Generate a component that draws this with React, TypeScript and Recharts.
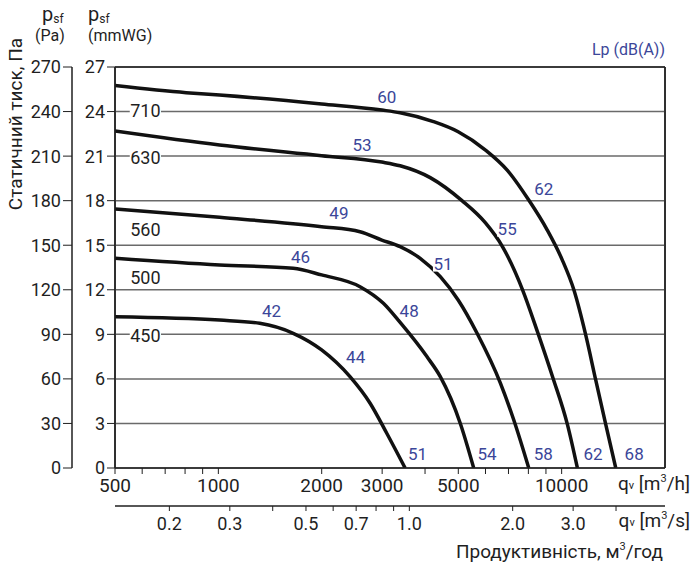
import React from "react";
import {
  ComposedChart,
  Line,
  XAxis,
  YAxis,
  CartesianGrid,
  ReferenceLine,
  ReferenceDot,
} from "recharts";

const W = 692;
const H = 562;
const INK = "#1f1f1f";
const BLUE = "#3b4699";
const FONT = "Roboto, 'Open Sans', sans-serif";

// fan characteristics, q in m³/h, p in Pa
const fan450 = [
  { q: 500, p: 101.9 },
  { q: 1008, p: 99.6 },
  { q: 1320, p: 97.4 },
  { q: 1652, p: 90.7 },
  { q: 1999, p: 79.5 },
  { q: 2418, p: 61.5 },
  { q: 2767, p: 43.6 },
  { q: 3094, p: 23.4 },
  { q: 3500, p: 0 },
];
const fan500 = [
  { q: 500, p: 141.2 },
  { q: 1008, p: 136.7 },
  { q: 1652, p: 134.5 },
  { q: 1999, p: 130 },
  { q: 2586, p: 122.1 },
  { q: 3025, p: 110.9 },
  { q: 3385, p: 98 },
  { q: 4050, p: 75 },
  { q: 4431, p: 61.5 },
  { q: 5068, p: 30 },
  { q: 5544, p: 0 },
];
const fan560 = [
  { q: 500, p: 174.4 },
  { q: 1008, p: 168.8 },
  { q: 1999, p: 162.5 },
  { q: 2586, p: 159.1 },
  { q: 2993, p: 153.5 },
  { q: 3385, p: 149 },
  { q: 3872, p: 141.2 },
  { q: 4431, p: 128.8 },
  { q: 4995, p: 113.1 },
  { q: 5671, p: 90.7 },
  { q: 6635, p: 57 },
  { q: 7254, p: 32.3 },
  { q: 8020, p: 0 },
];
const fan630 = [
  { q: 500, p: 226.9 },
  { q: 1008, p: 217.5 },
  { q: 1999, p: 210.3 },
  { q: 2993, p: 206 },
  { q: 3385, p: 203.5 },
  { q: 4141, p: 195.5 },
  { q: 5125, p: 180 },
  { q: 6000, p: 165 },
  { q: 6723, p: 149.1 },
  { q: 7678, p: 120.5 },
  { q: 8490, p: 92.2 },
  { q: 9413, p: 61.3 },
  { q: 10392, p: 29.4 },
  { q: 11114, p: 0 },
];
const fan710 = [
  { q: 500, p: 257.5 },
  { q: 806, p: 252.7 },
  { q: 1008, p: 251.1 },
  { q: 1999, p: 245.1 },
  { q: 2993, p: 241 },
  { q: 3385, p: 239.2 },
  { q: 4234, p: 233.2 },
  { q: 4995, p: 226.4 },
  { q: 6000, p: 214.1 },
  { q: 6939, p: 200.6 },
  { q: 8020, p: 180.4 },
  { q: 9080, p: 160.2 },
  { q: 10045, p: 140 },
  { q: 10858, p: 119.8 },
  { q: 11750, p: 89.6 },
  { q: 12566, p: 59.3 },
  { q: 13440, p: 29.4 },
  { q: 14373, p: 0 },
];
const fans = [fan450, fan500, fan560, fan630, fan710];

// impeller sizes written along the left edge
const sizeLabels = [
  { q: 613, p: 240.4, t: "710" },
  { q: 613, p: 209.4, t: "630" },
  { q: 613, p: 160.7, t: "560" },
  { q: 613, p: 128.4, t: "500" },
  { q: 613, p: 88.9, t: "450" },
];

// sound power level Lp, dB(A)
const noiseLabels = [
  { q: 3094, p: 250, t: "60" },
  { q: 2622, p: 217.5, t: "53" },
  { q: 2245, p: 171.7, t: "49" },
  { q: 1735, p: 142.3, t: "46" },
  { q: 1428, p: 105.9, t: "42" },
  { q: 2512, p: 74.5, t: "44" },
  { q: 3596, p: 105.9, t: "48" },
  { q: 4511, p: 137.4, t: "51" },
  { q: 6939, p: 160.9, t: "55" },
  { q: 8874, p: 187.7, t: "62" },
  { q: 3802, p: 9.4, t: "51" },
  { q: 6063, p: 9.4, t: "54" },
  { q: 8842, p: 9.4, t: "58" },
  { q: 12342, p: 9.4, t: "62" },
  { q: 16262, p: 9.4, t: "68" },
];

const qhTicks = [500, 600, 700, 800, 900, 1000, 2000, 3000, 4000, 5000, 6000, 7000, 8000, 9000, 10000];
const qhLabels = [500, 1000, 2000, 3000, 5000, 10000];
// second flow scale in m³/s
const qsTicks = [0.2, 0.3, 0.4, 0.5, 0.6, 0.7, 0.8, 0.9, 1, 2, 3, 4];
const qsLabels = ["0.2", "0.3", "", "0.5", "", "0.7", "", "", "1.0", "2.0", "3.0", ""];
const gridDark = [600, 700, 800, 1000, 4000, 6000, 10000];
const gridLight = [900, 2000, 3000, 5000, 7000, 8000, 9000];
const paTicks = [0, 30, 60, 90, 120, 150, 180, 210, 240, 270];
const mmTicks = [0, 3, 6, 9, 12, 15, 18, 21, 24, 27];

const Q_MIN = 500;
const Q_MAX = 20000;
const SEC_PER_H = 3600;
const QH_AXIS_H = 38;

function Tag({ cx, cy, text, color, size }: any) {
  const w = text.length * size * 0.56 + 1;
  const h = size * 0.9;
  return (
    <g>
      <rect x={cx - w / 2} y={cy - h / 2} width={w} height={h} fill="#fff" />
      <text
        x={cx}
        y={cy}
        textAnchor="middle"
        dominantBaseline="central"
        fontSize={size}
        fill={color}
        fontFamily={FONT}
      >
        {text}
      </text>
    </g>
  );
}

// tick of the m³/s scale, hung below the m³/h axis
function SecTick({ cx, cy, text }: any) {
  const y0 = cy + QH_AXIS_H;
  return (
    <g>
      <line x1={cx} x2={cx} y1={y0} y2={y0 + 5} stroke={INK} strokeWidth={1} />
      {text ? (
        <text x={cx} y={y0 + 11} dy="0.71em" textAnchor="middle" fontSize={18} fill={INK} fontFamily={FONT}>
          {text}
        </text>
      ) : null}
    </g>
  );
}

const tickStyle = { fill: INK, fontSize: 18, fontFamily: FONT };

export default function App() {
  return (
    <div style={{ position: "relative", width: W, height: H, fontFamily: FONT }}>
      <ComposedChart
        width={W}
        height={H}
        margin={{ top: 59, right: 35, bottom: 24, left: 0 }}
      >
        <XAxis
          xAxisId="a_qh"
          type="number"
          dataKey="q"
          scale="log"
          domain={[Q_MIN, Q_MAX]}
          allowDataOverflow
          ticks={qhTicks}
          interval={0}
          tickFormatter={(v: number) => (qhLabels.includes(v) ? String(v) : "")}
          height={QH_AXIS_H}
          tickSize={6}
          tickMargin={5}
          axisLine={{ stroke: INK, strokeWidth: 1.5 }}
          tickLine={{ stroke: INK }}
          tick={{ ...tickStyle, fontSize: 19 }}
        />
        <XAxis
          xAxisId="b_qs"
          type="number"
          scale="log"
          domain={[Q_MIN / SEC_PER_H, Q_MAX / SEC_PER_H]}
          allowDataOverflow
          height={40}
          tick={false}
          tickLine={false}
          axisLine={{ stroke: INK, strokeWidth: 1.5 }}
        />
        <XAxis xAxisId="z_dark" hide type="number" scale="log" domain={[Q_MIN, Q_MAX]} allowDataOverflow ticks={gridDark} interval={0} />
        <XAxis xAxisId="z_light" hide type="number" scale="log" domain={[Q_MIN, Q_MAX]} allowDataOverflow ticks={gridLight} interval={0} />
        <YAxis
          yAxisId="a_mm"
          type="number"
          domain={[0, 27]}
          allowDataOverflow
          ticks={mmTicks}
          interval={0}
          width={43}
          tickSize={8}
          tickMargin={2}
          axisLine={{ stroke: INK, strokeWidth: 1.5 }}
          tickLine={{ stroke: INK }}
          tick={tickStyle}
        />
        <YAxis
          yAxisId="b_pa"
          type="number"
          domain={[0, 270]}
          allowDataOverflow
          ticks={paTicks}
          interval={0}
          width={64}
          tickSize={9}
          tickMargin={2}
          axisLine={{ stroke: INK, strokeWidth: 1.5 }}
          tickLine={{ stroke: INK }}
          tick={tickStyle}
        />
        <CartesianGrid xAxisId="z_light" yAxisId="b_pa" horizontal={false} stroke="#8a8a8a" strokeWidth={1.5} />
        <CartesianGrid xAxisId="z_dark" yAxisId="b_pa" horizontal={false} stroke={INK} strokeWidth={1} />
        <CartesianGrid xAxisId="a_qh" yAxisId="b_pa" vertical={false} stroke="#6a6a6a" strokeWidth={1.5} />
        <ReferenceLine xAxisId="a_qh" yAxisId="b_pa" y={270} stroke={INK} strokeWidth={1.5} />
        <ReferenceLine xAxisId="a_qh" yAxisId="b_pa" x={Q_MAX} stroke={INK} strokeWidth={1.5} />

        {qsTicks.map((s, i) => (
          <ReferenceDot
            key={"t" + i}
            xAxisId="a_qh"
            yAxisId="b_pa"
            x={s * SEC_PER_H}
            y={0}
            r={0}
            ifOverflow="visible"
            shape={(p: any) => <SecTick cx={p.cx} cy={p.cy} text={qsLabels[i]} />}
          />
        ))}

        {sizeLabels.map((l, i) => (
          <ReferenceDot
            key={"s" + i}
            xAxisId="a_qh"
            yAxisId="b_pa"
            x={l.q}
            y={l.p}
            r={0}
            ifOverflow="visible"
            shape={(p: any) => <Tag cx={p.cx} cy={p.cy} text={l.t} color={INK} size={18} />}
          />
        ))}
        {noiseLabels.map((l, i) => (
          <ReferenceDot
            key={"n" + i}
            xAxisId="a_qh"
            yAxisId="b_pa"
            x={l.q}
            y={l.p}
            r={0}
            ifOverflow="visible"
            shape={(p: any) => <Tag cx={p.cx} cy={p.cy} text={l.t} color={BLUE} size={17} />}
          />
        ))}

        {fans.map((d, i) => (
          <Line
            key={i}
            xAxisId="a_qh"
            yAxisId="b_pa"
            data={d}
            dataKey="p"
            type="monotone"
            stroke="#111"
            strokeWidth={3.5}
            dot={false}
            activeDot={false}
            isAnimationActive={false}
          />
        ))}
      </ComposedChart>

      <svg
        width={W}
        height={H}
        style={{ position: "absolute", left: 0, top: 0, pointerEvents: "none", overflow: "visible" }}
        fontFamily={FONT}
        fill={INK}
      >
        <text x={34} y={13} fontSize={20}>
          p<tspan fontSize={12} dy={2}>sf</tspan>
        </text>
        <text x={27} y={33} fontSize={16}>(Pa)</text>
        <text x={80} y={13} fontSize={20}>
          p<tspan fontSize={12} dy={2}>sf</tspan>
        </text>
        <text x={80} y={33} fontSize={16}>(mmWG)</text>
        <text
          transform="translate(14,116) rotate(-90)"
          textAnchor="middle"
          fontSize={19}
        >
          Статичний тиск, Па
        </text>
        <text x={657} y={47} textAnchor="end" fontSize={16} fill={BLUE}>
          Lp (dB(A))
        </text>
        <text x={682} y={482} textAnchor="end" fontSize={19}>
          q<tspan fontSize={11} dy={-1}>v</tspan>
          <tspan dy={1}> [m</tspan>
          <tspan fontSize={11} dy={-8}>3</tspan>
          <tspan dy={8}>/h]</tspan>
        </text>
        <text x={682} y={519} textAnchor="end" fontSize={19}>
          q<tspan fontSize={11} dy={-1}>v</tspan>
          <tspan dy={1}> [m</tspan>
          <tspan fontSize={11} dy={-8}>3</tspan>
          <tspan dy={8}>/s]</tspan>
        </text>
        <text x={655} y={550} textAnchor="end" fontSize={19}>
          Продуктивність, м<tspan fontSize={11} dy={-8}>3</tspan>
          <tspan dy={8}>/год</tspan>
        </text>
      </svg>
    </div>
  );
}
